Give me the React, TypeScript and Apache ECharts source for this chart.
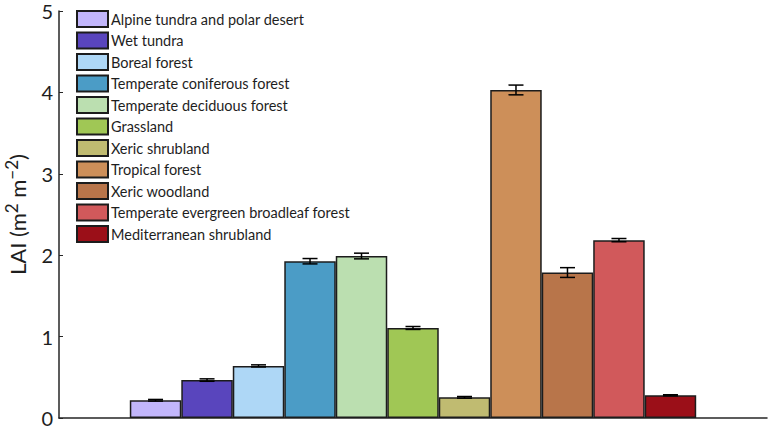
import React, { useEffect, useRef } from "react";
import * as echarts from "echarts";

const categories = [
  "Alpine tundra and polar desert",
  "Wet tundra",
  "Boreal forest",
  "Temperate coniferous forest",
  "Temperate deciduous forest",
  "Grassland",
  "Xeric shrubland",
  "Tropical forest",
  "Xeric woodland",
  "Temperate evergreen broadleaf forest",
  "Mediterranean shrubland",
];
const values = [0.218, 0.466, 0.64, 1.926, 1.99, 1.106, 0.254, 4.03, 1.787, 2.185, 0.279];
const errors = [0.01, 0.015, 0.013, 0.033, 0.035, 0.018, 0.01, 0.06, 0.06, 0.02, 0.007];
const colors = [
  "#c2b6fb",
  "#5945bd",
  "#aed7f6",
  "#4b9cc6",
  "#bbdfb0",
  "#a0c755",
  "#c0bb71",
  "#cd8f59",
  "#b8754a",
  "#d1595b",
  "#9b0f18",
];

const FONT = "Lato";

export default function App() {
  const ref = useRef<HTMLDivElement>(null);
  useEffect(() => {
    if (!ref.current) return;
    const chart = echarts.init(ref.current, undefined, { renderer: "svg" });
    const n = categories.length;
    const barSeries = categories.map((name, i) => ({
      type: "bar",
      name,
      data: [values[i]],
      barGap: "0%",
      barCategoryGap: "20%",
      itemStyle: { color: colors[i], borderColor: "#1c1c1c", borderWidth: 1.5 },
      emphasis: { disabled: true },
    }));
    const errSeries = {
      type: "custom",
      name: "error",
      data: values.map((v, i) => [0, v - errors[i], v + errors[i], i]),
      encode: { x: 0, y: [1, 2] },
      z: 10,
      renderItem: (params: any, api: any) => {
        const i = api.value(3);
        const lo = api.coord([0, api.value(1)]);
        const hi = api.coord([0, api.value(2)]);
        const band = api.size([1, 0])[0];
        const bw = (band * 0.8) / n;
        const cx = lo[0] + (i - (n - 1) / 2) * bw;
        const hw = 7.5;
        const st = { stroke: "#000", lineWidth: 1.5 };
        return {
          type: "group",
          children: [
            { type: "line", shape: { x1: cx, y1: lo[1], x2: cx, y2: hi[1] }, style: st },
            { type: "line", shape: { x1: cx - hw, y1: lo[1], x2: cx + hw, y2: lo[1] }, style: st },
            { type: "line", shape: { x1: cx - hw, y1: hi[1], x2: cx + hw, y2: hi[1] }, style: st },
          ],
        };
      },
    };
    chart.setOption({
      animation: false,
      textStyle: { fontFamily: FONT },
      grid: { left: 59, right: 1, top: 11, bottom: 11, containLabel: false, outerBoundsMode: "none" },
      legend: {
        data: categories,
        orient: "vertical",
        left: 71,
        top: 5,
        itemWidth: 31,
        itemHeight: 16,
        itemGap: 3.5,
        icon: "rect",
        selectedMode: false,
        textStyle: {
          fontFamily: FONT,
          fontSize: 14.5,
          lineHeight: 16,
          color: "#1e1e1e",
          padding: [0, 0, 0, -2],
        },
      },
      xAxis: {
        type: "category",
        data: [""],
        axisLine: { lineStyle: { color: "#262626", width: 1.5 } },
        axisTick: { show: false },
        axisLabel: { show: false },
      },
      yAxis: {
        type: "value",
        min: 0,
        max: 5,
        interval: 1,
        name: "{b|LAI (m}{s|2}{b| m}{s|−2}{b|)}",
        nameLocation: "middle",
        nameRotate: 90,
        nameGap: 31,
        nameTextStyle: {
          fontFamily: FONT,
          fontSize: 22,
          color: "#1e1e1e",
          rich: {
            b: { fontFamily: FONT, fontSize: 22, color: "#1e1e1e", lineHeight: 25, verticalAlign: "bottom" },
            s: { fontFamily: FONT, fontSize: 17, color: "#1e1e1e", lineHeight: 25, verticalAlign: "top" },
          },
        },
        axisLine: { show: true, lineStyle: { color: "#262626", width: 1.5 } },
        axisTick: { show: true, inside: true, length: 4, lineStyle: { color: "#262626" } },
        axisLabel: { fontFamily: FONT, fontSize: 20, color: "#1e1e1e", margin: 6 },
        splitLine: { show: false },
      },
      series: [...barSeries, errSeries],
    });
    return () => chart.dispose();
  }, []);
  return (
    <div
      ref={ref}
      style={{ position: "fixed", left: 0, top: 0, width: 768, height: 429, background: "#fff" }}
    />
  );
}
